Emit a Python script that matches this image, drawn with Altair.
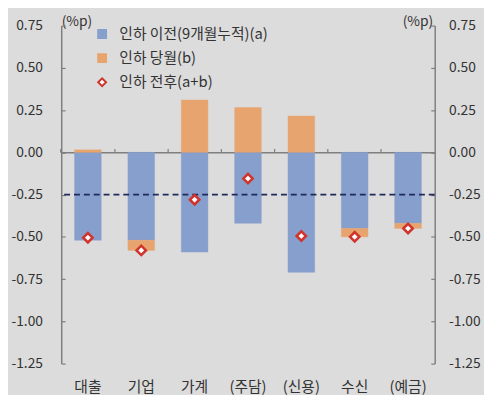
import altair as alt
import pandas as pd

categories = ["대출", "기업", "가계", "(주담)", "(신용)", "수신", "(예금)"]
before_a = [-0.52, -0.52, -0.59, -0.42, -0.71, -0.45, -0.42]
month_b = [0.015, -0.06, 0.31, 0.265, 0.215, -0.05, -0.03]
series_names = ["인하 이전(9개월누적)(a)", "인하 당월(b)", "인하 전후(a+b)"]
y_ticks = [0.75, 0.5, 0.25, 0.0, -0.25, -0.5, -0.75, -1.0, -1.25]
ref_line = [-0.25]

rows = []
for c, a, b in zip(categories, before_a, month_b):
    rows.append({"cat": c, "series": series_names[0], "value": a, "ord": 0})
    rows.append({"cat": c, "series": series_names[1], "value": b, "ord": 1})
bars_df = pd.DataFrame(rows)
pts_df = pd.DataFrame({
    "cat": categories,
    "total": [round(a + b, 3) for a, b in zip(before_a, month_b)],
    "series": series_names[2],
})

W, H = 379, 343
YMIN, YMAX = -1.25, 0.75
FONT = "Noto Sans CJK KR"
TXT = "#333333"
AX = "#7f7f7f"

x_scale = alt.Scale(domain=categories, paddingInner=0.5, paddingOuter=0.25)
y_scale = alt.Scale(domain=[YMIN, YMAX], nice=False, zero=False)
fill_scale = alt.Scale(domain=series_names, range=["#879fcd", "#e8a46e", "#ffffff"])
stroke_scale = alt.Scale(domain=series_names, range=["#879fcd", "#e8a46e", "#d0342c"])
shape_scale = alt.Scale(domain=series_names, range=["square", "square", "diamond"])
label_expr = "replace(format(datum.value, '.2f'), '\u2212', '-')"

bars = alt.Chart(bars_df).mark_bar(strokeWidth=0.8, strokeOpacity=0.5).encode(
    x=alt.X("cat:N", scale=x_scale, sort=categories,
            axis=alt.Axis(orient="bottom", domain=False, ticks=False, labelPadding=16,
                          labelAngle=0, labelFontSize=15, labelColor=TXT, labelFont=FONT,
                          title=None)),
    y=alt.Y("value:Q", scale=y_scale, stack=True,
            axis=alt.Axis(orient="left", values=y_ticks, labelExpr=label_expr, ticks=False,
                          labelPadding=19, domainColor=AX, domainWidth=1.5, grid=False,
                          labelFontSize=14, labelColor=TXT, labelFont=FONT,
                          title="(%p)", titleAngle=0, titleX=0, titleY=0,
                          titleAlign="left", titleBaseline="alphabetic",
                          titleFontSize=14, titleFontWeight="normal", titleColor=TXT,
                          titleFont=FONT)),
    fill=alt.Fill("series:N", scale=fill_scale, legend=alt.Legend(title=None)),
    stroke=alt.Stroke("series:N", scale=stroke_scale, legend=alt.Legend(title=None)),
    order=alt.Order("ord:Q"),
)

ticks_layer = alt.Chart(pts_df).mark_point(opacity=0).encode(
    x=alt.X("cat:N", scale=x_scale, sort=categories,
            axis=alt.Axis(orient="top", offset=-H * YMAX / (YMAX - YMIN), labels=False,
                          domain=True, domainColor=AX, domainWidth=1.5,
                          ticks=True, tickSize=4, tickColor=AX, tickWidth=1.2,
                          bandPosition=-0.5, title=None)),
    y=alt.Y("total:Q", scale=y_scale,
            axis=alt.Axis(orient="right", offset=-W, values=y_ticks, labels=False,
                          domain=False, ticks=True, tickSize=4, tickColor=AX,
                          tickWidth=1.2, grid=False, title=None)),
)

ticks_layer2 = alt.Chart(pts_df).mark_point(opacity=0).encode(
    x=alt.X("cat:N", scale=x_scale, sort=categories, axis=None),
    y=alt.Y("total:Q", scale=y_scale,
            axis=alt.Axis(orient="left", offset=-W, values=y_ticks, labels=False,
                          domain=False, ticks=True, tickSize=4, tickColor=AX,
                          tickWidth=1.2, grid=False, title=None)),
)

ref = alt.Chart(pd.DataFrame({"y": ref_line})).mark_rule(
    strokeDash=[6, 4], color="#1f2a5a", strokeWidth=1.8
).encode(y=alt.Y("y:Q", scale=y_scale, axis=None))

points = alt.Chart(pts_df).mark_point(filled=False, size=90, strokeWidth=2.6, opacity=1).encode(
    x=alt.X("cat:N", scale=x_scale, sort=categories, axis=None),
    y=alt.Y("total:Q", scale=y_scale,
            axis=alt.Axis(orient="right", values=y_ticks, labelExpr=label_expr, ticks=False,
                          labelPadding=14, domainColor=AX, domainWidth=1.5, grid=False,
                          labelFontSize=14, labelColor=TXT, labelFont=FONT,
                          title="(%p)", titleAngle=0, titleX=-2, titleY=0,
                          titleAlign="right", titleBaseline="alphabetic",
                          titleFontSize=14, titleFontWeight="normal", titleColor=TXT,
                          titleFont=FONT)),
    fill=alt.Fill("series:N", scale=fill_scale, legend=alt.Legend(title=None)),
    stroke=alt.Stroke("series:N", scale=stroke_scale, legend=alt.Legend(title=None)),
    shape=alt.Shape("series:N", scale=shape_scale, legend=alt.Legend(title=None)),
)

chart = alt.layer(bars, ticks_layer, ticks_layer2, ref, points).resolve_axis(
    x="independent", y="independent"
).properties(
    width=W, height=H,
    autosize=alt.AutoSizeParams(type="none"),
    padding={"left": 54, "top": 15, "right": 50, "bottom": 29},
    background="#dcdcdc",
).configure_view(stroke=None).configure_legend(
    orient="none", legendX=34, legendY=1, labelFont=FONT, labelFontSize=15,
    labelColor=TXT, symbolSize=64, symbolStrokeWidth=2, rowPadding=7.5, labelOffset=10,
)

chart.save("out.html", embed_options={"renderer": "svg", "actions": False})
